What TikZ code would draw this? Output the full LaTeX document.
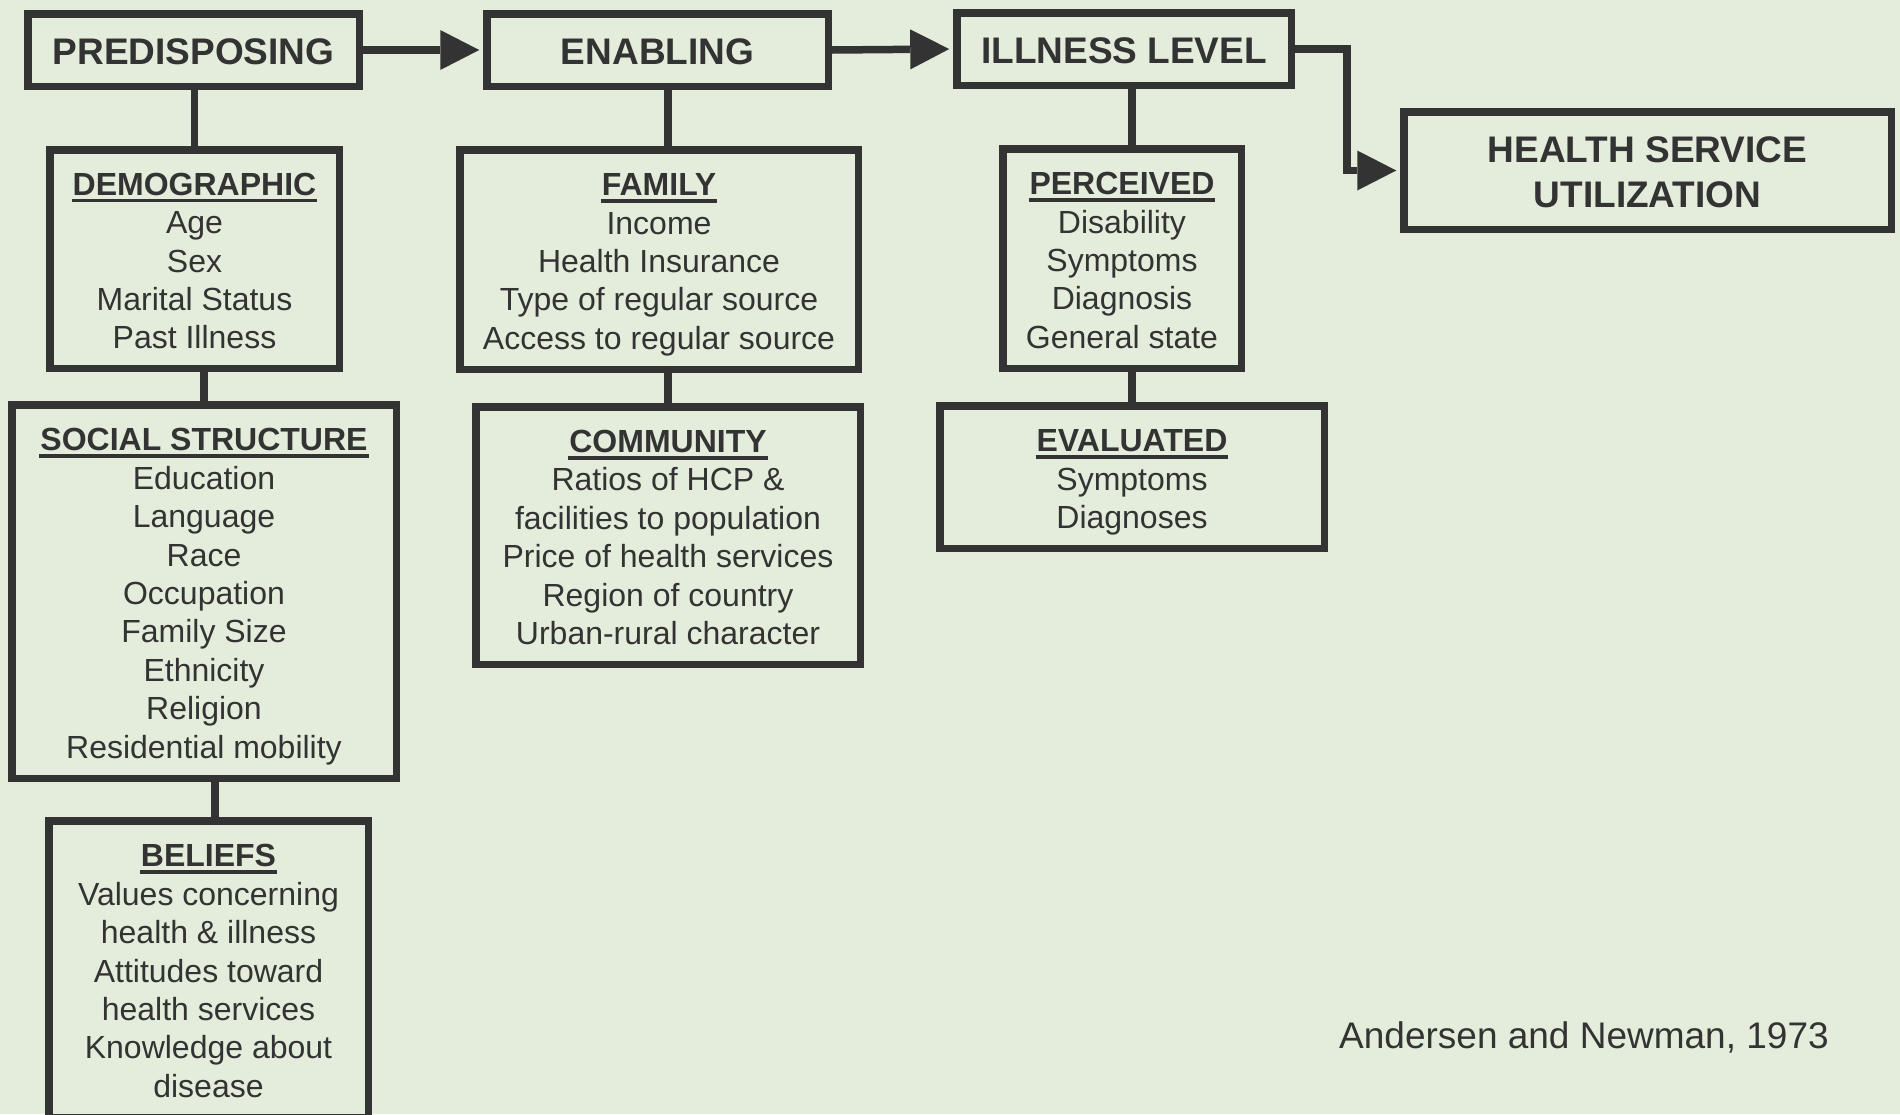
\documentclass[tikz,border=0pt]{standalone}
\usepackage{fontspec}
\setmainfont{Liberation Sans}
\usetikzlibrary{arrows.meta}
\definecolor{bg}{RGB}{228,237,219}
\definecolor{ln}{RGB}{51,51,51}
\definecolor{txt}{RGB}{51,51,51}
\newsavebox\hdrbox
\newcommand\hdr[1]{\sbox\hdrbox{\bfseries #1}\rlap{\kern-1pt\rule[-7.2pt]{\dimexpr\wd\hdrbox+2pt\relax}{3.8pt}}\rule{0pt}{33pt}\usebox\hdrbox}
\newcommand\lastd{\rule[-7pt]{0pt}{7pt}}
\newcommand\ttop{\rule{0pt}{30pt}}
\begin{document}
\begin{tikzpicture}[x=1pt,y=-1pt,
  box/.style={draw=ln, line width=7.5pt, inner sep=0pt, align=center, text=txt,
    font=\fontsize{32}{38.4}\selectfont},
  tbox/.style={box, font=\fontsize{37}{45}\selectfont\bfseries},
  conn/.style={draw=ln, line width=7.5pt},
  arr/.style={conn, -{Triangle[length=39pt,width=40pt,line width=0pt]}, shorten >=3.75pt}]
\fill[bg] (0,0) rectangle (1900,1114);
\useasboundingbox (0,0) rectangle (1900,1114);

% top row
\node[tbox, minimum width=331.5pt, minimum height=72.5pt] (pred) at (193.5,50) {\ttop PREDISPOSING};
\node[tbox, minimum width=341.5pt, minimum height=72.5pt] (enab) at (657.5,50) {\ttop ENABLING};
\node[tbox, minimum width=334.5pt, minimum height=72.5pt] (ill) at (1124,49) {\ttop ILLNESS LEVEL};
\node[tbox, minimum width=487.5pt, minimum height=117.5pt] (hsu) at (1647.5,170.5) {\ttop HEALTH SERVICE\\UTILIZATION};

% predisposing column
\node[box, minimum width=289.5pt, minimum height=218.5pt] (demo) at (194.5,259)
  {\hdr{DEMOGRAPHIC}\\Age\\Sex\\Marital Status\\Past Illness\lastd};
\node[box, minimum width=384.5pt, minimum height=373.5pt] (soc) at (204,591.5)
  {\hdr{SOCIAL STRUCTURE}\\Education\\Language\\Race\\Occupation\\Family Size\\Ethnicity\\Religion\\Residential mobility\lastd};
\node[box, minimum width=319.5pt, minimum height=296.5pt] (bel) at (208.5,969)
  {\hdr{BELIEFS}\\Values concerning\\health \& illness\\Attitudes toward\\health services\\Knowledge about\\disease\lastd};

% enabling column
\node[box, minimum width=398.5pt, minimum height=219.5pt] (fam) at (659,259.5)
  {\hdr{FAMILY}\\Income\\Health Insurance\\Type of regular source\\Access to regular source\lastd};
\node[box, minimum width=384.5pt, minimum height=257.5pt] (comm) at (668,535.5)
  {\hdr{COMMUNITY}\\Ratios of HCP \&\\facilities to population\\Price of health services\\Region of country\\Urban-rural character\lastd};

% illness column
\node[box, minimum width=238.5pt, minimum height=219.5pt] (perc) at (1122,258.5)
  {\hdr{PERCEIVED}\\Disability\\Symptoms\\Diagnosis\\General state\lastd};
\node[box, minimum width=384.5pt, minimum height=142.5pt] (eval) at (1132,477)
  {\hdr{EVALUATED}\\Symptoms\\Diagnoses\lastd};

% citation
\node[anchor=base west, inner sep=0pt, text=txt, font=\fontsize{37}{45}\selectfont] (cite) at (1339,1048) {Andersen and Newman, 1973};

% arrows
\draw[arr] (pred.east) -- (enab.west);
\draw[arr] (enab.east) -- (ill.west);
\coordinate (elbow) at (1347,49);
\draw[arr] (ill.east) -- (ill.east -| elbow) |- (hsu.west);

% vertical connectors
\draw[conn] (pred.south -| demo.north) -- (demo.north);
\draw[conn] (demo.south -| soc.north) -- (soc.north);
\draw[conn] ([xshift=6.5pt]bel.north) -- ([xshift=6.5pt]bel.north |- soc.south);
\draw[conn] (enab.south -| comm.north) -- (fam.north -| comm.north);
\draw[conn] (fam.south -| comm.north) -- (comm.north);
\draw[conn] (ill.south -| eval.north) -- (perc.north -| eval.north);
\draw[conn] (perc.south -| eval.north) -- (eval.north);
\end{tikzpicture}
\end{document}
